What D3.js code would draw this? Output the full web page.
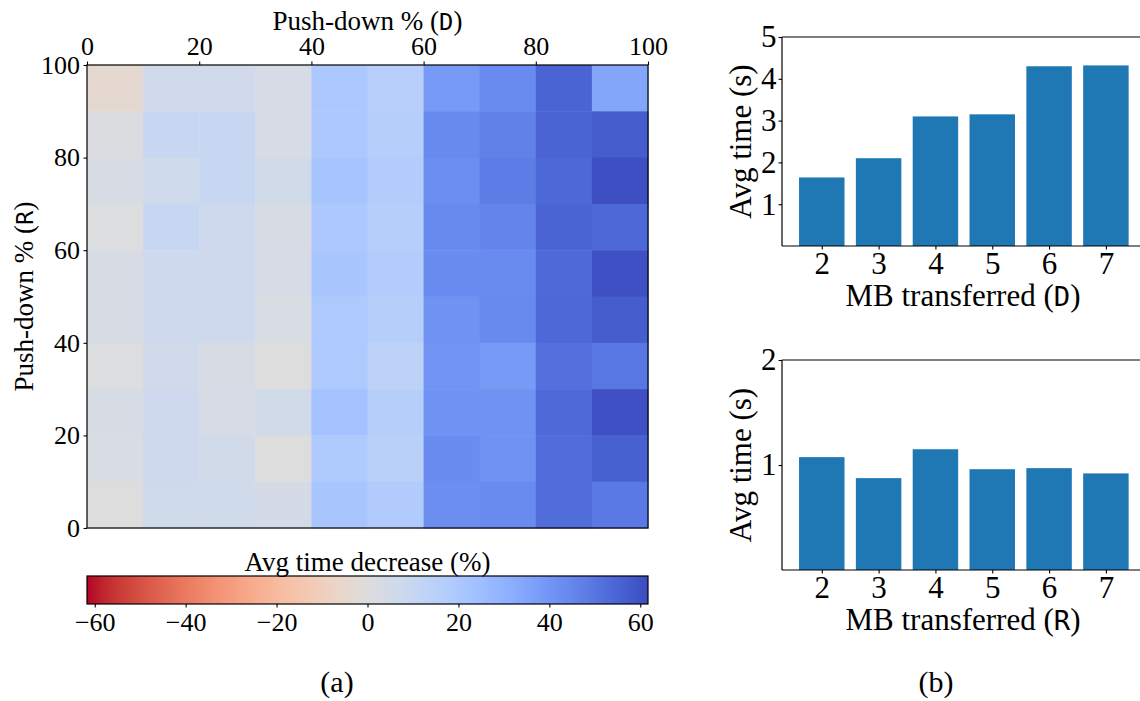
<!DOCTYPE html>
<html>
<head>
<meta charset="utf-8">
<script src="https://cdn.jsdelivr.net/npm/d3@7"></script>
<style>
  body { margin: 0; background: #fff; }
  svg { display: block; }
</style>
</head>
<body>
<div id="chart"></div>
<script>
// ---- data ----
const pushD = [0, 10, 20, 30, 40, 50, 60, 70, 80, 90];      // column start (push-down % D)
const pushR = [90, 80, 70, 60, 50, 40, 30, 20, 10, 0];      // row start, top to bottom (push-down % R)
// avg time decrease (%), one row per pushR entry, one column per pushD entry
const decrease = [
  [-4, 6, 6, 3.5, 20, 16, 38.5, 43.5, 55, 34.5],
  [1, 9.5, 9.5, 3.5, 20, 16.5, 44, 46.5, 55, 57],
  [3, 6.5, 9.5, 5.5, 22, 17.5, 42.5, 48, 54, 61],
  [0.5, 9.5, 7, 3, 20, 16.5, 44, 45.5, 55, 54],
  [3, 7, 7, 3.5, 21, 17.5, 43, 43.5, 53.5, 60.5],
  [3, 7, 7, 2.5, 19.5, 16.5, 41, 44, 54, 57],
  [0.5, 6, 3, 0, 19.5, 14, 40.5, 38.5, 52, 49.5],
  [3, 7, 3.5, 5.5, 23, 16.5, 41, 41, 53.5, 60.5],
  [2.5, 7, 5.5, 0, 19, 15, 43, 41, 52.5, 56],
  [0, 6.5, 6.5, 4, 21.5, 18, 42.5, 43.5, 52.5, 49],
];
const heatTicks = [0, 20, 40, 60, 80, 100];
const colorbarTicks = [-60, -40, -20, 0, 20, 40, 60];
const vmax = 61.7;

const mbTransferred = [2, 3, 4, 5, 6, 7];
const timeD = [1.64, 2.10, 3.10, 3.15, 4.30, 4.32];
const timeR = [1.075, 0.875, 1.15, 0.96, 0.97, 0.92];
const timeTicksD = [1, 2, 3, 4, 5];
const timeTicksR = [1, 2];

// matplotlib coolwarm (Moreland), low -> high
const coolwarmStops = [
  [59,76,192],[68,90,204],[77,104,215],[87,117,225],[98,130,234],[108,142,241],
  [119,154,247],[130,165,251],[141,176,254],[152,185,255],[163,194,255],[174,201,253],
  [184,208,249],[194,213,244],[204,217,238],[213,219,230],[221,221,221],[229,216,209],
  [236,211,197],[241,204,185],[245,196,173],[247,187,160],[247,177,148],[247,166,135],
  [244,154,123],[241,141,111],[236,127,99],[229,112,88],[222,96,77],[213,80,66],
  [203,62,56],[192,40,47],[180,4,38],
];

const SERIF = "'Liberation Serif', 'DejaVu Serif', serif";
const MONO = "'DejaVu Sans Mono', 'Liberation Mono', monospace";

const W = 1140, H = 701;
const svg = d3.select("#chart").append("svg").attr("width", W).attr("height", H);
svg.append("rect").attr("width", W).attr("height", H).attr("fill", "#fff");

const coolwarm = d3.scaleLinear()
  .domain(coolwarmStops.map((_, i) => i / (coolwarmStops.length - 1)))
  .range(coolwarmStops.map((c) => d3.rgb(...c)))
  .interpolate(d3.interpolateRgb)
  .clamp(true);
// reversed: negative = red, positive = blue
const color = (v) => coolwarm((vmax - v) / (2 * vmax));

function label(t, parts, size) {
  t.style("font-family", SERIF).attr("font-size", size).attr("fill", "#000");
  parts.forEach(([s, fam, scale]) => {
    t.append("tspan").style("font-family", fam).attr("font-size", size * (scale || 1)).text(s);
  });
}

function styleAxis(g, size) {
  g.attr("font-family", null);
  g.select(".domain").remove();
  g.selectAll(".tick line").attr("stroke", "#000").attr("stroke-width", 1.1);
  g.selectAll(".tick text")
    .style("font-family", SERIF)
    .attr("fill", "#000")
    .attr("font-size", size);
}

// ---- (a) heatmap ----
const hm = { left: 87, right: 648, top: 65, bottom: 528 };
const x = d3.scaleLinear().domain([0, 100]).range([hm.left, hm.right]);
const y = d3.scaleLinear().domain([0, 100]).range([hm.bottom, hm.top]);

const cells = [];
decrease.forEach((row, i) => row.forEach((v, j) => cells.push({ d: pushD[j], r: pushR[i], v })));

svg.append("g")
  .selectAll("rect")
  .data(cells)
  .join("rect")
  .attr("x", (c) => x(c.d))
  .attr("y", (c) => y(c.r + 10))
  .attr("width", (c) => x(c.d + 10) - x(c.d) + 0.5)
  .attr("height", (c) => y(c.r) - y(c.r + 10) + 0.5)
  .attr("fill", (c) => color(c.v));

svg.append("rect")
  .attr("x", hm.left).attr("y", hm.top)
  .attr("width", hm.right - hm.left).attr("height", hm.bottom - hm.top)
  .attr("fill", "none").attr("stroke", "#000").attr("stroke-width", 1.2);

svg.append("g")
  .attr("transform", `translate(0,${hm.top})`)
  .call(d3.axisTop(x).tickValues(heatTicks).tickSize(3.5).tickSizeOuter(0).tickPadding(7).tickFormat(d3.format("d")))
  .call((g) => styleAxis(g, 26));

svg.append("g")
  .attr("transform", `translate(${hm.left},0)`)
  .call(d3.axisLeft(y).tickValues(heatTicks).tickSize(3.5).tickSizeOuter(0).tickPadding(3.5).tickFormat(d3.format("d")))
  .call((g) => styleAxis(g, 26));

label(
  svg.append("text").attr("x", (hm.left + hm.right) / 2).attr("y", 30).attr("text-anchor", "middle"),
  [["Push-down % (", SERIF], ["D", MONO, 0.88], [")", SERIF]], 27
);

label(
  svg.append("text").attr("transform", `translate(33,${(hm.top + hm.bottom) / 2}) rotate(-90)`).attr("text-anchor", "middle"),
  [["Push-down % (", SERIF], ["R", MONO, 0.88], [")", SERIF]], 27
);

// colorbar
const cb = { top: 576, bottom: 604 };
const cx = d3.scaleLinear().domain([-vmax, vmax]).range([hm.left, hm.right]);
const grad = svg.append("defs").append("linearGradient").attr("id", "cbgrad").attr("x1", "0%").attr("x2", "100%");
d3.range(0, 1.0001, 1 / 64).forEach((t) => {
  grad.append("stop").attr("offset", `${t * 100}%`).attr("stop-color", color(-vmax + t * 2 * vmax));
});
svg.append("rect")
  .attr("x", hm.left).attr("y", cb.top)
  .attr("width", hm.right - hm.left).attr("height", cb.bottom - cb.top)
  .attr("fill", "url(#cbgrad)").attr("stroke", "#000").attr("stroke-width", 1.2);

svg.append("g")
  .attr("transform", `translate(0,${cb.bottom})`)
  .call(d3.axisBottom(cx).tickValues(colorbarTicks).tickSize(3.5).tickSizeOuter(0).tickPadding(5).tickFormat((d) => (d < 0 ? "\u2212" + Math.abs(d) : d)))
  .call((g) => styleAxis(g, 26));

label(
  svg.append("text").attr("x", (hm.left + hm.right) / 2).attr("y", 571).attr("text-anchor", "middle"),
  [["Avg time decrease (%)", SERIF]], 27
);

label(
  svg.append("text").attr("x", 337).attr("y", 692).attr("text-anchor", "middle"),
  [["(a)", SERIF]], 30
);

// ---- (b) bar charts ----
function barChart(values, ticks, ymax, top, bottom, tag) {
  const left = 782, right = 1140;
  const bx = d3.scaleLinear().domain([1.3, 7.6]).range([left, right]);
  const by = d3.scaleLinear().domain([0, ymax]).range([bottom, top]);
  const g = svg.append("g");

  g.selectAll("rect")
    .data(values)
    .join("rect")
    .attr("x", (_, i) => bx(mbTransferred[i] - 0.4))
    .attr("width", bx(0.8) - bx(0))
    .attr("y", (d) => by(d))
    .attr("height", (d) => by(0) - by(d))
    .attr("fill", "#1f77b4");

  g.append("line").attr("x1", left).attr("x2", right).attr("y1", top).attr("y2", top)
    .attr("stroke", "#000").attr("stroke-width", 1.2);
  g.append("line").attr("x1", left).attr("x2", right).attr("y1", bottom).attr("y2", bottom)
    .attr("stroke", "#000").attr("stroke-width", 1.2);
  g.append("line").attr("x1", left).attr("x2", left).attr("y1", top).attr("y2", bottom)
    .attr("stroke", "#000").attr("stroke-width", 1.2);

  g.append("g")
    .attr("transform", `translate(0,${bottom})`)
    .call(d3.axisBottom(bx).tickValues(mbTransferred).tickSize(3.5).tickSizeOuter(0).tickPadding(2).tickFormat(d3.format("d")))
    .call((a) => styleAxis(a, 31));

  g.append("g")
    .attr("transform", `translate(${left},0)`)
    .call(d3.axisLeft(by).tickValues(ticks).tickSize(3.5).tickSizeOuter(0).tickPadding(2).tickFormat(d3.format("d")))
    .call((a) => styleAxis(a, 31));

  label(
    g.append("text").attr("x", 963).attr("y", bottom + 60).attr("text-anchor", "middle"),
    [["MB transferred (", SERIF], [tag, MONO, 0.88], [")", SERIF]], 31
  );

  label(
    g.append("text").attr("transform", `translate(751,${(top + bottom) / 2}) rotate(-90)`).attr("text-anchor", "middle"),
    [["Avg time (s)", SERIF]], 31
  );
}

barChart(timeD, timeTicksD, 5, 37, 246, "D");
barChart(timeR, timeTicksR, 2, 360, 570, "R");

label(
  svg.append("text").attr("x", 936).attr("y", 692).attr("text-anchor", "middle"),
  [["(b)", SERIF]], 30
);
</script>
</body>
</html>
